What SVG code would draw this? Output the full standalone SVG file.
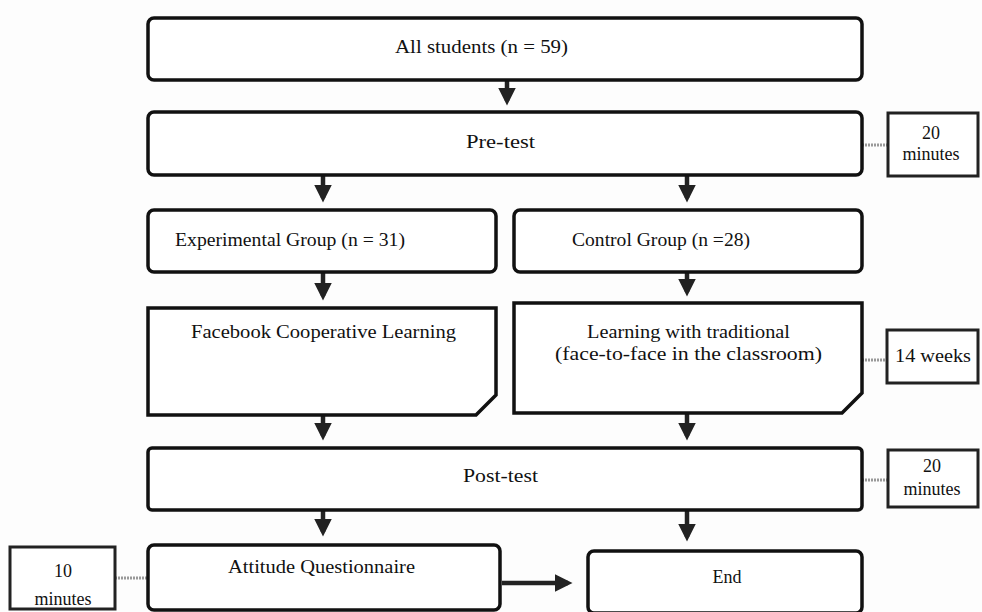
<svg xmlns="http://www.w3.org/2000/svg" width="982" height="612" viewBox="0 0 982 612">
<defs>
<style>
.box{fill:#fff;stroke:#111;stroke-width:3.5}
.side{fill:#fff;stroke:#222;stroke-width:3}
.t{font-family:"Liberation Serif","Times New Roman",serif;font-size:18px;fill:#111;text-anchor:start}
.s{font-family:"Liberation Serif","Times New Roman",serif;font-size:18px;fill:#111;text-anchor:middle}
.arr{stroke:#222;stroke-width:4.5;fill:none}
.thin{stroke:#999;stroke-width:3;stroke-dasharray:2 1;fill:none}
</style>
<marker id="ah" markerWidth="4" markerHeight="4" refX="3" refY="2" orient="auto" markerUnits="strokeWidth">
<path d="M0,0 L4,2 L0,4 Z" fill="#222"/>
</marker>
</defs>
<rect width="982" height="612" fill="#fdfdfd"/>
<g id="connectors">
<line class="arr" x1="507" y1="80" x2="507" y2="101" marker-end="url(#ah)"/>
<line class="arr" x1="323" y1="175" x2="323" y2="198" marker-end="url(#ah)"/>
<line class="arr" x1="687" y1="175" x2="687" y2="198" marker-end="url(#ah)"/>
<line class="arr" x1="323" y1="272" x2="323" y2="296" marker-end="url(#ah)"/>
<line class="arr" x1="687" y1="272" x2="687" y2="292" marker-end="url(#ah)"/>
<line class="arr" x1="323" y1="415" x2="323" y2="436" marker-end="url(#ah)"/>
<line class="arr" x1="687" y1="413" x2="687" y2="436" marker-end="url(#ah)"/>
<line class="arr" x1="323" y1="510" x2="323" y2="532" marker-end="url(#ah)"/>
<line class="arr" x1="687" y1="510" x2="687" y2="537" marker-end="url(#ah)"/>
<line class="arr" x1="502" y1="583" x2="568" y2="583" stroke-width="6" marker-end="url(#ah)"/>
<line class="thin" x1="862" y1="145" x2="888" y2="145"/>
<line class="thin" x1="862" y1="360" x2="887" y2="360"/>
<line class="thin" x1="862" y1="480" x2="888" y2="480"/>
<line class="thin" x1="115" y1="578" x2="148" y2="578"/>
</g>
<g id="all-students">
<rect class="box" x="148" y="18" width="714" height="62" rx="6"/>
<text class="t" x="395" y="53" textLength="173" lengthAdjust="spacingAndGlyphs">All students (n = 59)</text>
</g>
<g id="pre-test">
<rect class="box" x="148" y="112" width="714" height="63" rx="6"/>
<text class="t" x="466" y="148" textLength="69" lengthAdjust="spacingAndGlyphs">Pre-test</text>
</g>
<g id="pre-time">
<rect class="side" x="888" y="113" width="90" height="63"/>
<text class="s" x="931" y="139">20</text>
<text class="s" x="931" y="160">minutes</text>
</g>
<g id="experimental">
<rect class="box" x="148" y="210" width="348" height="62" rx="6"/>
<text class="t" x="175" y="246" textLength="230" lengthAdjust="spacingAndGlyphs">Experimental Group (n = 31)</text>
</g>
<g id="control">
<rect class="box" x="514" y="210" width="348" height="62" rx="6"/>
<text class="t" x="572" y="246" textLength="178" lengthAdjust="spacingAndGlyphs">Control Group (n =28)</text>
</g>
<g id="facebook">
<path class="box" d="M148,308 H496 V395 L476,415 H148 Z" stroke-width="3"/>
<text class="t" x="191" y="338" textLength="265" lengthAdjust="spacingAndGlyphs">Facebook Cooperative Learning</text>
</g>
<g id="traditional">
<path class="box" d="M514,303 H862 V393 L842,413 H514 Z" stroke-width="3"/>
<text class="t" x="587" y="338" textLength="203" lengthAdjust="spacingAndGlyphs">Learning with traditional</text>
<text class="t" x="555" y="360" textLength="267" lengthAdjust="spacingAndGlyphs">(face-to-face in the classroom)</text>
</g>
<g id="weeks">
<rect class="side" x="887" y="330" width="91" height="53"/>
<text class="t" x="895" y="362" textLength="76" lengthAdjust="spacingAndGlyphs">14 weeks</text>
</g>
<g id="post-test">
<rect class="box" x="148" y="448" width="714" height="62" rx="4"/>
<text class="t" x="463" y="482" textLength="75" lengthAdjust="spacingAndGlyphs">Post-test</text>
</g>
<g id="post-time">
<rect class="side" x="888" y="450" width="90" height="57"/>
<text class="s" x="932" y="472">20</text>
<text class="s" x="932" y="495">minutes</text>
</g>
<g id="attitude">
<rect class="box" x="148" y="545" width="352" height="65" rx="6"/>
<text class="t" x="228" y="573" textLength="187" lengthAdjust="spacingAndGlyphs">Attitude Questionnaire</text>
</g>
<g id="end">
<rect class="box" x="588" y="551" width="274" height="62" rx="6"/>
<text class="s" x="727" y="583">End</text>
</g>
<g id="att-time">
<rect class="side" x="10" y="547" width="105" height="62"/>
<text class="s" x="63" y="577">10</text>
<text class="s" x="63" y="605">minutes</text>
</g>
</svg>
